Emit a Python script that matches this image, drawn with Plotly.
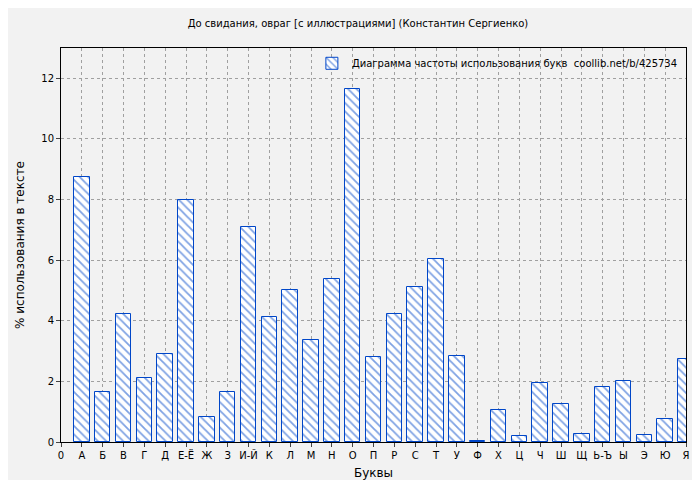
import plotly.graph_objects as go

letters = ["А", "Б", "В", "Г", "Д", "Е-Ё", "Ж", "З", "И-Й", "К", "Л", "М", "Н", "О", "П",
           "Р", "С", "Т", "У", "Ф", "Х", "Ц", "Ч", "Ш", "Щ", "Ь-Ъ", "Ы", "Э", "Ю", "Я"]
percent = [8.74, 1.64, 4.21, 2.10, 2.89, 7.99, 0.82, 1.64, 7.10, 4.14, 5.03, 3.35, 5.39, 11.64, 2.79,
           4.21, 5.10, 6.05, 2.83, 0.03, 1.05, 0.20, 1.94, 1.25, 0.26, 1.81, 2.00, 0.23, 0.76, 2.73]
positions = list(range(1, len(letters) + 1))

fig = go.Figure(go.Bar(
    x=positions, y=percent, width=0.75,
    name="Диаграмма частоты использования букв  coollib.net/b/425734",
    marker=dict(color="white", line=dict(color="#0046c8", width=1),
                pattern=dict(shape="\\", fgcolor="#0046c8", size=6, solidity=0.3)),
))

fig.update_layout(
    width=700, height=480,
    paper_bgcolor="#f2f2f2", plot_bgcolor="#f2f2f2",
    margin=dict(l=53, r=22, t=40, b=46, autoexpand=False),
    font=dict(family="DejaVu Sans", size=10, color="black"),
    title=dict(text="До свидания, овраг [с иллюстрациями] (Константин Сергиенко)",
               x=0.5, y=0.975, xanchor="center", font=dict(size=10)),
    showlegend=True,
    legend=dict(x=0.995, y=0.998, xanchor="right", yanchor="top", bgcolor="rgba(0,0,0,0)",
                font=dict(size=10)),
    bargap=0,
)
fig.update_xaxes(
    range=[0, 30], tickvals=[0] + positions, ticktext=["0"] + letters,
    title=dict(text="Буквы", standoff=8), automargin=False,
    showline=True, mirror=True, linecolor="black", ticks="outside", ticklen=4,
    showgrid=True, gridcolor="#a0a0a0", griddash="dot", zeroline=False,
)
fig.update_yaxes(
    range=[0, 13], tickvals=[0, 2, 4, 6, 8, 10, 12],
    title=dict(text="% использования в тексте", standoff=14), automargin=False,
    showline=True, mirror=True, linecolor="black", ticks="outside", ticklen=4,
    showgrid=True, gridcolor="#a0a0a0", griddash="dot", zeroline=False,
)

fig.write_html("out.html")
